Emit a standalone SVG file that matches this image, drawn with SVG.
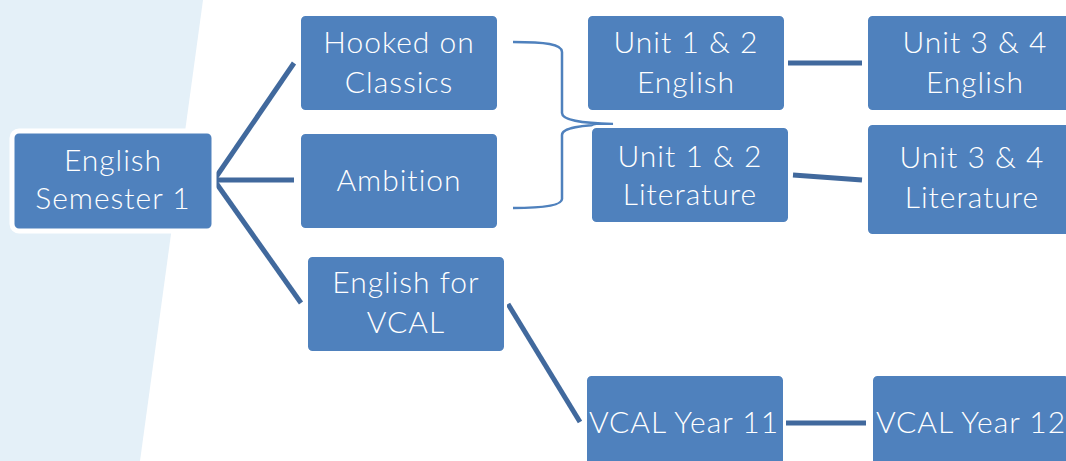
<svg xmlns="http://www.w3.org/2000/svg" width="1066" height="461" viewBox="0 0 1066 461">
<style>
.node rect{fill:#4F81BD;stroke:#FFFFFF;stroke-width:3}
.node text{font-family:Lato,"Liberation Sans",sans-serif;font-weight:300;font-size:30px;letter-spacing:1px;fill:#FFFFFF;text-anchor:middle}
.conn{stroke:#41699D;stroke-width:5;fill:none}
.brace{stroke:#4F81BD;stroke-width:2.5;fill:none}
</style>
<rect width="1066" height="461" fill="#FFFFFF"/>
<polygon points="0,0 203,0 140,461 0,461" fill="#E4F0F8"/>
<g id="connectors">
<line class="conn" x1="214" y1="180" x2="294" y2="63"/>
<line class="conn" x1="214" y1="180" x2="294" y2="180"/>
<line class="conn" x1="214" y1="180" x2="301" y2="303"/>
<path class="brace" d="M513,42 C545,42 562,44 562,52 L562,113 C562,120 580,123 613,124 C580,125 562,128 562,135 L562,199 C562,205 545,208 513,208"/>
<line class="conn" x1="788" y1="63" x2="862" y2="63"/>
<line class="conn" x1="793" y1="175" x2="862" y2="180"/>
<line class="conn" x1="508" y1="304" x2="580" y2="422"/>
<line class="conn" x1="786" y1="423" x2="866" y2="423"/>
</g>
<g id="english-semester-1" class="node">
<rect x="12" y="131" width="202" height="100" rx="7" style="stroke-width:5"/>
<text x="113" y="171">English</text>
<text x="113" y="209">Semester 1</text>
</g>
<g id="hooked-on-classics" class="node">
<rect x="299.5" y="14.5" width="199" height="97" rx="6"/>
<text x="399" y="53">Hooked on</text>
<text x="399" y="93">Classics</text>
</g>
<g id="ambition" class="node">
<rect x="299.5" y="132.5" width="199" height="97" rx="6"/>
<text x="399" y="191">Ambition</text>
</g>
<g id="english-for-vcal" class="node">
<rect x="306.5" y="255.5" width="199" height="97" rx="6"/>
<text x="406" y="293">English for</text>
<text x="406" y="333">VCAL</text>
</g>
<g id="unit-12-english" class="node">
<rect x="586.5" y="14.5" width="199" height="97" rx="6"/>
<text x="686" y="53">Unit 1 &amp; 2</text>
<text x="686" y="93">English</text>
</g>
<g id="unit-12-literature" class="node">
<rect x="590.5" y="126.5" width="199" height="97" rx="6"/>
<text x="690" y="167">Unit 1 &amp; 2</text>
<text x="690" y="205">Literature</text>
</g>
<g id="unit-34-english" class="node">
<rect x="866.5" y="14.5" width="216" height="97" rx="6"/>
<text x="975" y="53">Unit 3 &amp; 4</text>
<text x="975" y="93">English</text>
</g>
<g id="unit-34-literature" class="node">
<rect x="866.5" y="123.5" width="212" height="112" rx="6"/>
<text x="972" y="168">Unit 3 &amp; 4</text>
<text x="972" y="208">Literature</text>
</g>
<g id="vcal-year-11" class="node">
<rect x="585.5" y="374.5" width="199" height="100" rx="6"/>
<text x="684" y="433">VCAL Year 11</text>
</g>
<g id="vcal-year-12" class="node">
<rect x="871.5" y="374.5" width="199" height="100" rx="6"/>
<text x="971" y="433">VCAL Year 12</text>
</g>
</svg>
